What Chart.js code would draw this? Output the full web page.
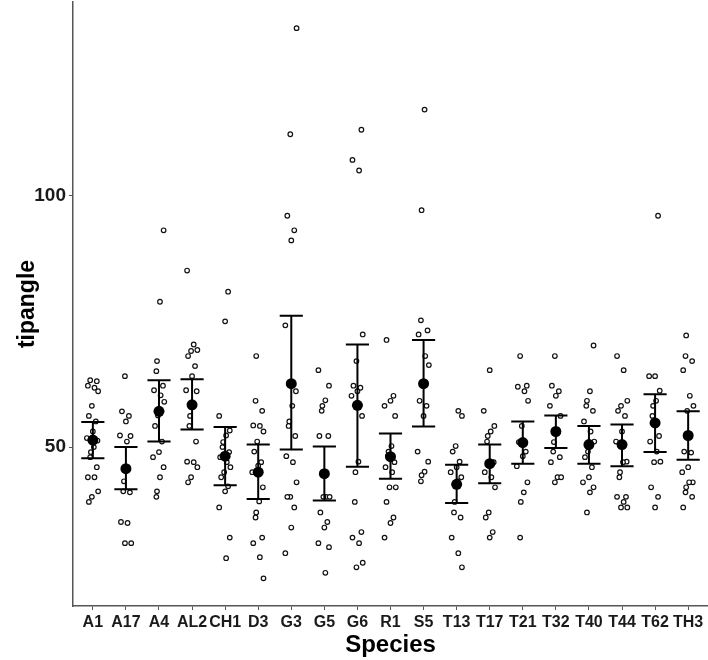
<!DOCTYPE html>
<html>
<head>
<meta charset="utf-8">
<script src="https://cdn.jsdelivr.net/npm/chart.js@4.4.0/dist/chart.umd.min.js"></script>
<style>
    html, body { margin: 0; padding: 0; background: #fff; }
</style>
</head>
<body>
<canvas id="tipangleChart" width="708" height="660"></canvas>
<script>
// Categorías (eje x)
const species = ["A1", "A17", "A4", "AL2", "CH1", "D3", "G3", "G5", "G6", "R1",
                 "S5", "T13", "T17", "T21", "T32", "T40", "T44", "T62", "TH3"];

// Valores individuales por especie
const ptsA1  = [63.3, 63.1, 62.2, 61.8, 61.1, 58.2, 56.2, 55.1, 53.1, 51.8, 51.3, 50.0, 49.0, 48.0, 46.0, 44.0, 44.0, 41.2, 40.1, 39.1];
const ptsA17 = [64.1, 57.1, 56.2, 55.1, 52.3, 52.2, 51.1, 43.2, 41.2, 41.0, 35.1, 34.9, 30.9, 30.9];
const ptsA4  = [93.1, 78.9, 67.1, 65.1, 62.2, 61.3, 60.3, 59.0, 56.3, 54.2, 51.1, 49.0, 48.0, 46.0, 44.0, 41.2, 40.1];
const ptsAL2 = [85.1, 70.4, 69.3, 69.1, 68.1, 66.1, 64.1, 61.3, 61.1, 58.2, 56.2, 54.2, 51.1, 47.1, 47.0, 46.0, 44.0, 43.0];
const ptsCH1 = [80.9, 75.0, 56.2, 53.3, 52.3, 51.0, 50.0, 49.0, 48.0, 47.0, 46.0, 45.0, 44.0, 42.2, 41.2, 38.0, 32.0, 27.9];
const ptsD3  = [68.1, 59.2, 57.2, 54.3, 54.2, 53.1, 51.1, 49.1, 47.0, 46.3, 45.0, 42.0, 39.2, 37.0, 36.0, 32.0, 30.9, 28.1, 23.9];
const ptsG3  = [133.3, 112.2, 96.0, 93.1, 91.1, 74.2, 61.1, 58.2, 55.1, 54.2, 52.2, 48.2, 47.0, 43.0, 40.1, 40.1, 38.0, 34.0, 28.9];
const ptsG5  = [65.3, 62.2, 59.3, 58.2, 57.2, 52.2, 52.2, 40.1, 40.1, 40.1, 37.0, 35.1, 34.0, 30.9, 30.1, 25.0];
const ptsG6  = [113.1, 107.1, 105.0, 72.4, 67.1, 62.2, 61.8, 61.1, 60.2, 56.2, 47.1, 45.0, 39.1, 33.1, 32.0, 30.9, 27.0, 26.1];
const ptsR1  = [71.3, 60.2, 59.2, 58.2, 56.2, 50.2, 49.1, 48.2, 47.0, 46.0, 45.0, 42.0, 42.0, 39.1, 36.0, 34.9, 32.0];
const ptsS5  = [117.1, 97.1, 75.2, 73.2, 72.4, 68.1, 66.3, 62.2, 59.2, 58.2, 56.2, 49.1, 47.1, 45.1, 44.4, 43.2];
const ptsT13 = [57.2, 56.2, 50.2, 49.1, 47.1, 46.0, 45.0, 44.0, 43.2, 39.1, 37.0, 36.0, 32.0, 28.9, 26.1];
const ptsT17 = [65.3, 57.2, 54.2, 53.1, 52.2, 51.1, 47.0, 45.0, 44.0, 42.0, 37.0, 36.0, 33.1, 32.0];
const ptsT21 = [68.1, 62.2, 62.0, 61.1, 59.2, 54.2, 51.0, 49.1, 48.2, 46.2, 43.0, 41.0, 39.1, 32.0];
const ptsT32 = [68.1, 62.2, 61.1, 60.2, 58.2, 56.2, 53.1, 51.0, 49.1, 48.0, 47.0, 44.0, 44.0, 43.0];
const ptsT40 = [70.2, 61.1, 59.2, 58.2, 57.2, 55.1, 53.1, 51.1, 49.1, 48.0, 46.0, 44.0, 43.0, 42.0, 41.0, 37.0];
const ptsT44 = [68.1, 65.3, 59.2, 58.2, 57.2, 56.2, 53.1, 51.1, 47.1, 47.0, 45.0, 44.0, 40.1, 40.1, 39.1, 38.0, 38.0];
const ptsT62 = [96.0, 64.1, 64.1, 61.2, 59.2, 58.2, 56.2, 52.2, 51.1, 49.1, 47.1, 47.0, 42.0, 40.1, 38.0];
const ptsTH3 = [72.2, 68.1, 67.1, 65.3, 60.2, 58.2, 57.2, 49.1, 48.9, 46.0, 45.0, 43.0, 43.0, 42.0, 41.0, 40.1, 38.0];

const pointValues = [ptsA1, ptsA17, ptsA4, ptsAL2, ptsCH1, ptsD3, ptsG3, ptsG5, ptsG6, ptsR1,
                     ptsS5, ptsT13, ptsT17, ptsT21, ptsT32, ptsT40, ptsT44, ptsT62, ptsTH3];

// Media y barras de error
const meanValues  = [51.4, 45.7, 57.1, 58.4, 48.2, 45.0, 62.6, 44.7, 58.3, 48.1, 62.6, 42.6, 46.7, 50.9, 53.1, 50.5, 50.5, 54.8, 52.3];
const lowerValues = [47.8, 41.6, 51.1, 53.5, 42.4, 39.7, 49.5, 39.4, 46.1, 43.7, 54.1, 38.9, 42.8, 46.7, 49.8, 46.7, 46.2, 49.0, 47.5];
const upperValues = [55.0, 50.0, 63.3, 63.5, 54.0, 50.5, 76.1, 50.1, 70.4, 52.7, 71.3, 46.5, 50.5, 55.1, 56.3, 54.2, 54.5, 60.5, 57.1];

const yTicks = [50, 100];

// Desplazamiento horizontal fijo (jitter) para los puntos
const jitter = [-0.08, 0.12, -0.15, 0.05, 0.16, -0.03, -0.12, 0.09, 0.0, -0.18, 0.14, 0.03, -0.06];

// Construir puntos del scatter
const rawPoints = [];
pointValues.forEach((vals, i) => {
    vals.forEach((v, j) => {
        rawPoints.push({ x: i + 1 + jitter[(j + i * 5) % jitter.length], y: v });
    });
});
const meanPoints = meanValues.map((m, i) => ({ x: i + 1, y: m }));

// Plugin para dibujar las barras de error con las escalas del gráfico
const errorBarPlugin = {
    id: 'errorBars',
    afterDatasetDraw(chart, args) {
        if (args.index !== 1) return;
        const { ctx, scales: { x, y } } = chart;
        ctx.save();
        ctx.strokeStyle = '#000';
        ctx.lineWidth = 2;
        meanValues.forEach((m, i) => {
            const cx = x.getPixelForValue(i + 1);
            const x0 = x.getPixelForValue(i + 1 - 0.35);
            const x1 = x.getPixelForValue(i + 1 + 0.35);
            const yl = y.getPixelForValue(lowerValues[i]);
            const yu = y.getPixelForValue(upperValues[i]);
            ctx.beginPath();
            ctx.moveTo(cx, yl); ctx.lineTo(cx, yu);
            ctx.moveTo(x0, yl); ctx.lineTo(x1, yl);
            ctx.moveTo(x0, yu); ctx.lineTo(x1, yu);
            ctx.stroke();
        });
        ctx.restore();
    }
};

const ctx = document.getElementById('tipangleChart').getContext('2d');
new Chart(ctx, {
    type: 'scatter',
    data: {
        datasets: [
            {
                label: 'media',
                data: meanPoints,
                pointRadius: 5.5,
                pointBackgroundColor: '#000',
                pointBorderColor: '#000',
                pointBorderWidth: 0,
                clip: false
            },
            {
                label: 'tipangle',
                data: rawPoints,
                pointRadius: 2.3,
                pointBackgroundColor: '#fff',
                pointBorderColor: '#111',
                pointBorderWidth: 1.2,
                clip: false
            }
        ]
    },
    options: {
        responsive: false,
        animation: false,
        layout: { autoPadding: false, padding: { top: 2, left: 0, right: 0, bottom: 0 } },
        plugins: {
            legend: { display: false },
            tooltip: { enabled: false }
        },
        scales: {
            x: {
                type: 'linear',
                min: 0.4,
                max: 19.6,
                afterBuildTicks: s => { s.ticks = species.map((_, i) => ({ value: i + 1 })); },
                afterFit: s => {
                    s.height = 54;
                    s.paddingLeft = 0;
                    s.paddingRight = 0;
                },
                ticks: {
                    autoSkip: false,
                    maxRotation: 0,
                    padding: 3,
                    color: '#1a1a1a',
                    font: { family: 'Liberation Sans', size: 16, weight: 'bold' },
                    callback: v => species[v - 1]
                },
                grid: { drawOnChartArea: false, drawTicks: true, tickLength: 4, color: '#555' },
                border: { color: '#555', width: 1.5 },
                title: {
                    display: true,
                    text: 'Species',
                    color: '#000',
                    padding: { top: 0, bottom: 0 },
                    font: { family: 'Liberation Sans', size: 24, weight: 'bold' }
                }
            },
            y: {
                min: 18.4,
                max: 138.5,
                afterBuildTicks: s => { s.ticks = yTicks.map(v => ({ value: v })); },
                afterFit: s => {
                    s.width = 73;
                    s.paddingTop = 0;
                    s.paddingBottom = 0;
                },
                ticks: {
                    padding: 3,
                    color: '#1a1a1a',
                    font: { family: 'Liberation Sans', size: 19, weight: 'bold' }
                },
                grid: { drawOnChartArea: false, drawTicks: true, tickLength: 4, color: '#555' },
                border: { color: '#555', width: 1.5 },
                title: {
                    display: true,
                    text: 'tipangle',
                    color: '#000',
                    padding: { top: 14, bottom: 0 },
                    font: { family: 'Liberation Sans', size: 23, weight: 'bold' }
                }
            }
        }
    },
    plugins: [errorBarPlugin]
});
</script>
</body>
</html>
